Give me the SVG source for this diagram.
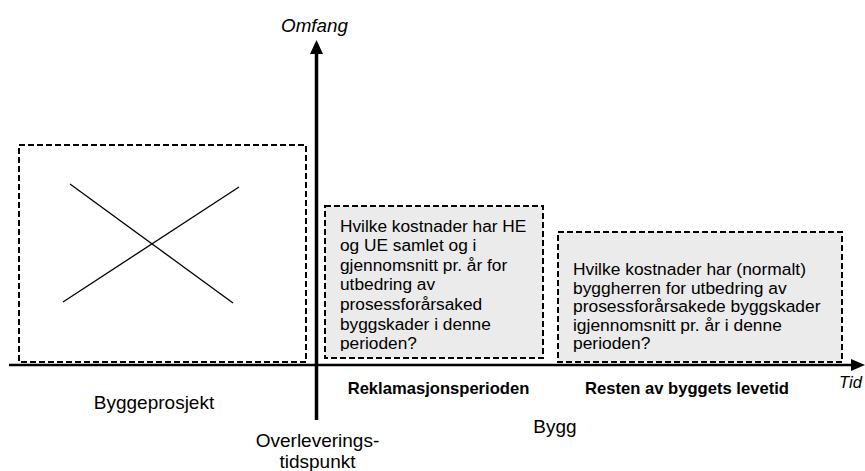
<svg xmlns="http://www.w3.org/2000/svg" width="865" height="471" viewBox="0 0 865 471">
<style>
.box{stroke:#000;stroke-width:2;stroke-dasharray:6 3;}
.t{font-family:"Liberation Sans",Arial,sans-serif;fill:#000;}
.it{font-style:italic;}
.b{font-weight:bold;font-size:16.6px;}
.q{font-size:17.3px;}
.r{font-size:17.4px;}
.n{font-size:19px;}
</style>
<defs>
<clipPath id="c2"><rect x="325" y="206" width="218" height="145"/></clipPath>
<clipPath id="c3"><rect x="558" y="232" width="284" height="123"/></clipPath>
</defs>
<rect width="865" height="471" fill="#fff"/>
<g id="projectBox">
<rect class="box" x="19" y="145" width="287" height="217" fill="#fff"/>
<line x1="70" y1="184" x2="233" y2="303" stroke="#000" stroke-width="1.3"/>
<line x1="63" y1="302" x2="239" y2="187" stroke="#000" stroke-width="1.3"/>
</g>
<g id="reklamasjonBox">
<rect class="box" x="325" y="206" width="218" height="152" fill="#ebebeb"/>
<text class="t q" clip-path="url(#c2)">
<tspan x="340" y="231.5">Hvilke kostnader har HE</tspan>
<tspan x="340" y="251.1">og UE samlet og i</tspan>
<tspan x="340" y="270.7">gjennomsnitt pr. år for</tspan>
<tspan x="340" y="290.3">utbedring av</tspan>
<tspan x="340" y="309.9">prosessforårsaked</tspan>
<tspan x="340" y="329.5">byggskader i denne</tspan>
<tspan x="340" y="349.1">perioden?</tspan>
</text>
</g>
<g id="levetidBox">
<rect class="box" x="558" y="232" width="284" height="130" fill="#ebebeb"/>
<text class="t r" clip-path="url(#c3)">
<tspan x="573" y="275">Hvilke kostnader har (normalt)</tspan>
<tspan x="573" y="293.5">byggherren for utbedring av</tspan>
<tspan x="573" y="312">prosessforårsakede byggskader</tspan>
<tspan x="573" y="330.5">igjennomsnitt pr. år i denne</tspan>
<tspan x="573" y="349">perioden?</tspan>
</text>
</g>
<g id="connectors">
<line x1="9" y1="365" x2="853" y2="365" stroke="#000" stroke-width="2.5"/>
<polygon points="865,365 851,359 851,371" fill="#000"/>
<line x1="316.5" y1="420" x2="316.5" y2="52" stroke="#000" stroke-width="3.5"/>
<polygon points="316.5,40 310,54 323,54" fill="#000"/>
</g>
<g id="labels">
<text class="t it" x="314.5" y="32" text-anchor="middle" font-size="18.8">Omfang</text>
<text class="t it" x="850.5" y="388" text-anchor="middle" font-size="16.6">Tid</text>
<text class="t n" x="154" y="409" text-anchor="middle">Byggeprosjekt</text>
<text class="t b" x="438.5" y="394" text-anchor="middle">Reklamasjonsperioden</text>
<text class="t b" x="687" y="394" text-anchor="middle">Resten av byggets levetid</text>
<text class="t n" x="317.5" y="447" text-anchor="middle">Overleverings-</text>
<text class="t n" x="317.5" y="468" text-anchor="middle">tidspunkt</text>
<text class="t n" x="555" y="433" text-anchor="middle">Bygg</text>
</g>
</svg>
